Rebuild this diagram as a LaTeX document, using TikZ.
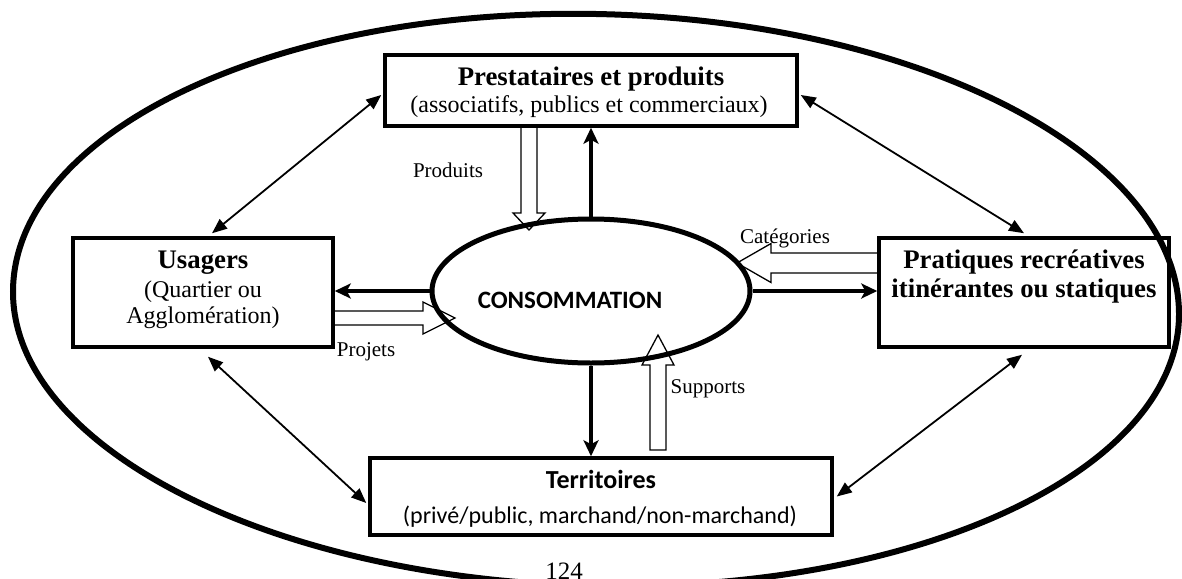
\documentclass[tikz,border=0pt]{standalone}
\usepackage{fontspec}
\setmainfont{Liberation Serif}
\newfontfamily\calib{Carlito}
\usetikzlibrary{arrows.meta,shapes.geometric,calc}
\tikzset{
  outerline/.style={line width=6pt},
  box/.style={draw, rectangle, line width=3.5pt, inner sep=0pt},
  txt/.style={anchor=base, inner sep=0pt},
  thickarr/.style={line width=3.2pt, -{Stealth[length=16pt,width=15pt,inset=4pt]}},
  dbl/.style={line width=1.8pt, {Triangle[length=15pt,width=12pt]}-{Triangle[length=15pt,width=12pt]}},
  hollow/.style={draw, line width=1.3pt, line join=miter},
}
\newcommand\blockarrow[6]{%
  \draw[hollow,shift={(#1)},rotate=#2] (0,0) -- (-#6,#5) -- (-#6,#4) -- (-#3,#4) -- (-#3,-#4) -- (-#6,-#4) -- (-#6,-#5) -- cycle;}
\newcommand\bigb{\bfseries\fontsize{26.8}{30}\selectfont}
\newcommand\regt{\fontsize{24}{28}\selectfont}
\newcommand\smallt{\fontsize{21}{25}\selectfont}
\begin{document}
\begin{tikzpicture}[x=1pt,y=-1pt]
\useasboundingbox (0,0) rectangle (1182,578);
% outer oval (slightly sheared ellipse)
\draw[outerline] (596,14) .. controls (918,20.1) and (1179,154.5) .. (1179,314.1)
  .. controls (1179,470.4) and (918,592.1) .. (596,586)
  .. controls (274,579.9) and (13,448.2) .. (13,291.9)
  .. controls (13,132.3) and (274,7.9) .. cycle;
% boxes
\node[box, minimum width=412pt, minimum height=71pt] (prest) at (591,90.5) {};
\node[box, minimum width=260pt, minimum height=109pt] (usa) at (203,292.5) {};
\node[box, minimum width=290pt, minimum height=109pt] (prat) at (1024,292.5) {};
\node[box, minimum width=462pt, minimum height=77pt] (terr) at (601,496.5) {};
\node[ellipse, draw, line width=5pt, fill=white, minimum width=318pt, minimum height=144pt, inner sep=0pt] (cons) at (591,291) {};
% texts
\node[txt, font=\bigb] (prestT) at (591,85) {Prestataires et produits};
\node[txt, font=\regt] (prestS) at (589,112) {(associatifs, publics et commerciaux)};
\node[txt, font=\bigb] (usaT) at (203,268) {Usagers};
\node[txt, font=\regt] (usaS1) at (203,297) {(Quartier ou};
\node[txt, font=\regt] (usaS2) at (203,323) {Agglomération)};
\node[txt, font=\bigb] (pratT1) at (1024,268) {Pratiques recréatives};
\node[txt, font=\bigb] (pratT2) at (1024,297) {itinérantes ou statiques};
\node[txt, font=\calib\bfseries\fontsize{26}{30}\selectfont] (terrT) at (601,488) {Territoires};
\node[txt, font=\calib\fontsize{24}{28}\selectfont] (terrS) at (600,523) {(privé/public, marchand/non-marchand)};
\node[txt, font=\calib\bfseries\fontsize{25}{30}\selectfont] (consT) at (570,308) {CONSOMMATION};
% thick arrows
\draw[thickarr] (cons.north) -- (prest.south);
\draw[thickarr] (cons.west) -- (cons.west -| usa.east);
\draw[thickarr] (cons.east) -- (cons.east -| prat.west);
\draw[thickarr] (cons.south) -- (cons.south |- terr.north);
% double arrows
\draw[dbl] ([xshift=9pt,yshift=3pt]usa.north) -- ([xshift=-2pt,yshift=-4.5pt]prest.west);
\draw[dbl] ([xshift=2pt,yshift=-4.5pt]prest.east) -- ([yshift=3pt]prat.north);
\draw[dbl] ([xshift=5pt,yshift=-8pt]usa.south) -- ([xshift=-2pt,yshift=-6.5pt]terr.west);
\draw[dbl] ([xshift=-2pt,yshift=-6pt]prat.south) -- ([xshift=3pt]terr.east);
% hollow arrows
\coordinate (prodTip) at (529,230);
\coordinate (projTip) at (455,318);
\coordinate (catTip) at (737,263);
\coordinate (supTip) at (658,335);
\blockarrow{prodTip}{-90}{103}{8}{16}{17}
\blockarrow{projTip}{0}{122}{7}{16}{32}
\blockarrow{catTip}{180}{142}{10}{19.5}{34}
\blockarrow{supTip}{90}{115}{8}{16}{30}
% labels
\node[txt, font=\smallt] (lprod) at (448,177) {Produits};
\node[txt, font=\smallt] (lcat) at (785,243) {Catégories};
\node[txt, font=\smallt] (lproj) at (366,356) {Projets};
\node[txt, font=\smallt] (lsup) at (708,393) {Supports};
\node[txt, font=\fontsize{25}{28}\selectfont] (page) at (564,579) {124};
\end{tikzpicture}
\end{document}
